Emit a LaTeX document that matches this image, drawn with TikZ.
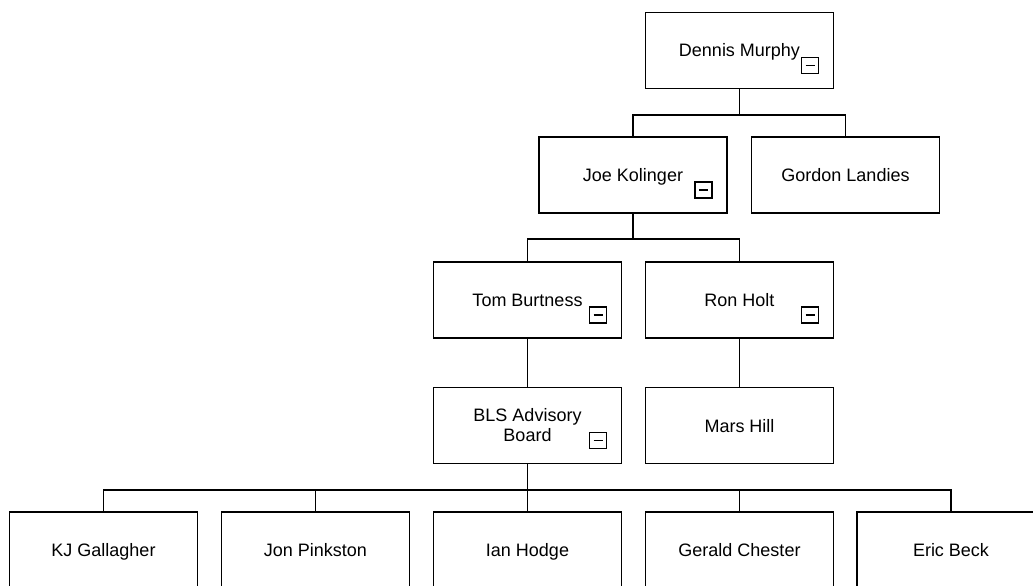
\documentclass[tikz,border=0pt]{standalone}
\usepackage{fontspec}
\setmainfont{Liberation Sans}
\usepackage{tikz}
\usetikzlibrary{positioning, calc}

\tikzset{
    boxbase/.style={draw, line width=1.5pt, minimum width=188pt, minimum height=76pt,
        inner sep=0pt, align=center, font=\fontsize{18}{20}\selectfont},
    person/.style={boxbase, text height=13pt, text depth=0pt},
    minusbox/.style={draw, line width=1.4pt, minimum width=17pt, minimum height=16pt,
        inner sep=0pt, anchor=south east,
        path picture={\draw[line width=1.4pt] ([xshift=4pt]path picture bounding box.west)
            -- ([xshift=-4pt]path picture bounding box.east);}},
    orgline/.style={line width=1.5pt}
}

\newcommand{\collapser}[1]{\node[minusbox] (#1-minus) at ([xshift=-15pt,yshift=15pt]#1.south east) {};}

\begin{document}
\begin{tikzpicture}[x=1pt, y=-1pt]
    \useasboundingbox[fill=white] (0,0) rectangle (1033,586);
    \clip (0,0) rectangle (1033,586);

    % Define nodes
    \node[person]		(dennis)	at (739.5,50.5)		{Dennis Murphy};
    \node[person]		(joe)		at (633,175)		{Joe Kolinger};
    \node[person]		(gordon)	at (845.5,175)		{Gordon Landies};
    \node[person]		(tom)		at (527.5,300)		{Tom Burtness};
    \node[person]		(ron)		at (739.5,300)		{Ron Holt};
    \node[boxbase]		(bls)		at (527.5,425.5)	{BLS Advisory\\Board};
    \node[person]		(mars)		at (739.5,425.5)	{Mars Hill};
    \node[person]		(kj)		at (103.5,550)		{KJ Gallagher};
    \node[person]		(jon)		at (315.5,550)		{Jon Pinkston};
    \node[person]		(ian)		at (527.5,550)		{Ian Hodge};
    \node[person]		(gerald)	at (739.5,550)		{Gerald Chester};
    \node[person]		(eric)		at (951,550)		{Eric Beck};

    % collapse buttons
    \collapser{dennis}
    \collapser{joe}
    \collapser{tom}
    \collapser{ron}
    \collapser{bls}

    % Connect nodes
    \foreach \child in {joe, gordon}
        \draw[orgline] (dennis.south) -- +(0,25.5) -| (\child.north);
    \foreach \child in {tom, ron}
        \draw[orgline] (joe.south) -- +(0,25) -| (\child.north);
    \draw[orgline] (tom.south) -- (bls.north);
    \draw[orgline] (ron.south) -- (mars.north);
    \foreach \child in {kj, jon, ian, gerald, eric}
        \draw[orgline] (bls.south) -- +(0,25.5) -| (\child.north);
\end{tikzpicture}
\end{document}
